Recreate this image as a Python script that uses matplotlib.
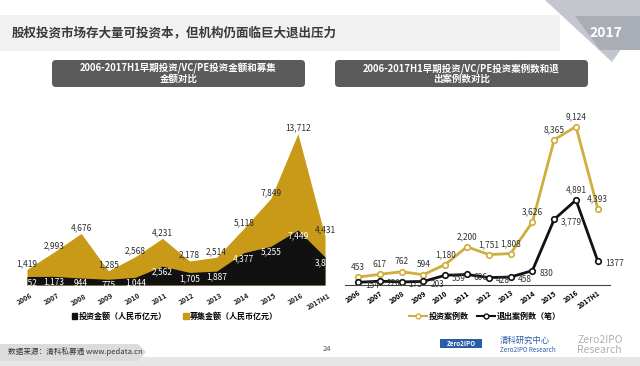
import matplotlib
matplotlib.use('Agg')
import matplotlib.pyplot as plt
from matplotlib.patches import Polygon, Rectangle, FancyBboxPatch, Patch
from matplotlib.lines import Line2D
import numpy as np

plt.rcParams['font.family'] = ['Noto Sans CJK SC', 'DejaVu Sans']

years = ['2006', '2007', '2008', '2009', '2010', '2011', '2012', '2013',
         '2014', '2015', '2016', '2017H1']
invest_amt = [1152, 1173, 944, 775, 1044, 2562, 1705, 1887, 4377, 5255, 7449, 3812]
raise_amt = [1419, 2993, 4676, 1285, 2568, 4231, 2178, 2514, 5118, 7849, 13712, 4431]
invest_cases = [453, 617, 762, 594, 1180, 2200, 1751, 1808, 3626, 8365, 9124, 4393]
exit_cases = [154, 220, 175, 203, 559, 606, 428, 458, 830, 3779, 4891, 1377]

GOLD = '#C99A17'
GOLD_LINE = '#D0AE3C'
W, H = 640, 366


def fx(px):
    return px / W


def fy(py):
    return 1 - py / H


fig = plt.figure(figsize=(6.4, 3.66), dpi=100)
fig.patch.set_facecolor('white')

# page decorations in pixel coordinates
bg = fig.add_axes([0, 0, 1, 1])
bg.set_xlim(0, W)
bg.set_ylim(H, 0)
bg.axis('off')
bg.add_patch(Rectangle((0, 15), 560, 36, color='#f1f1f1', lw=0))
bg.text(12, 33, '股权投资市场存大量可投资本，但机构仍面临巨大退出压力',
        fontsize=9, fontweight='bold', color='#3a3a3a', va='center')
bg.add_patch(Polygon([(545, 0), (640, 0), (640, 22), (612, 62)], color='#c3c6cc', lw=0))
bg.add_patch(Polygon([(575, 16), (640, 16), (640, 50), (600, 50)], color='#a9adb5', lw=0))
bg.text(606, 33, '2017', fontsize=10, fontweight='bold', color='white',
        ha='center', va='center')

for x0, x1, t in [(52, 305, '2006-2017H1早期投资/VC/PE投资金额和募集\n金额对比'),
                  (335, 588, '2006-2017H1早期投资/VC/PE投资案例数和退\n出案例数对比')]:
    bg.add_patch(FancyBboxPatch((x0, 60), x1 - x0, 27, boxstyle='round,pad=0,rounding_size=4',
                                color='#5b5b5b', lw=0))
    bg.text((x0 + x1) / 2, 73.5, t, fontsize=6.8, fontweight='bold', color='white',
            ha='center', va='center', linespacing=1.05)

# footer
bg.add_patch(Rectangle((0, 357), W, 9, color='#e6e6e6', lw=0))
bg.add_patch(Polygon([(0, 344), (138, 344), (146, 352), (138, 361), (0, 361)],
                     color='#dcdcdc', lw=0))
bg.text(8, 352, '数据来源：清科私募通 www.pedata.cn', fontsize=5.5, color='#333333', va='center')
bg.text(327, 349, '24', fontsize=5.5, color='#555555', ha='center', va='center')
bg.add_patch(Rectangle((440, 339), 42, 9, color='#2a5ca8', lw=0))
bg.text(461, 343.5, 'Zero2IPO', fontsize=4.5, color='white', fontweight='bold',
        ha='center', va='center')
bg.text(500, 340, '清科研究中心', fontsize=6, color='#2a5ca8', va='center')
bg.text(500, 350, 'Zero2IPO Research', fontsize=4.5, color='#2a5ca8', va='center')
bg.text(577, 345, 'Zero2IPO\nResearch', fontsize=7.5, color='#b0b0b0', va='center',
        linespacing=0.9)

x = np.arange(len(years))

# left chart: amounts
px_unit = 298 / 11
axL = fig.add_axes([fx(27), fy(285), fx(305), (285 - 125) / H])
axL.set_xlim(0, 305 / px_unit)
axL.set_ylim(0, 14500)
axL.fill_between(x, raise_amt, color=GOLD, lw=0)
axL.axis('off')
axL2 = axL.twinx()
axL2.set_xlim(0, 305 / px_unit)
axL2.set_ylim(0, 21700)
axL2.fill_between(x, invest_amt, color='#111111', lw=0)
axL2.axis('off')
for i, v in enumerate(raise_amt):
    axL.annotate(f'{v:,}', (x[i], v), xytext=(0, 1), textcoords='offset points',
                 ha='center', va='bottom', fontsize=6, color='#2a2a2a')
for i, v in enumerate(invest_amt):
    axL2.annotate(f'{v:,}', (x[i], v), xytext=(0, -1), textcoords='offset points',
                  ha='center', va='top', fontsize=6, color='white')
for i, lab in enumerate(years):
    bg.text(27 + i * px_unit + 3, 292, lab, fontsize=5, fontweight='bold', color='#222222',
            rotation=30, ha='right', va='top', rotation_mode='anchor')
fig.legend(handles=[Patch(color='#111111'), Patch(color=GOLD)],
           labels=['投资金额（人民币亿元）', '募集金额（人民币亿元）'],
           loc='center', bbox_to_anchor=(fx(175), fy(316)), ncol=2, frameon=False,
           fontsize=5.8, handlelength=0.7, handleheight=0.7, handletextpad=0.2,
           columnspacing=2.0, prop={'weight': 'bold', 'size': 5.8})

# right chart: case counts
ru = 21.8
axR = fig.add_axes([fx(345), fy(285), fx(265), (285 - 120) / H])
axR.set_xlim(-13 / ru, 252 / ru)
axR.set_ylim(0, 9500)
axR.set_facecolor('none')
for s in ['top', 'right', 'left']:
    axR.spines[s].set_visible(False)
axR.spines['bottom'].set_color('#444444')
axR.spines['bottom'].set_linewidth(0.8)
axR.set_yticks([])
axR.set_xticks(x)
axR.set_xticklabels(years, rotation=35, ha='right', rotation_mode='anchor',
                    fontsize=5, fontweight='bold')
axR.tick_params(axis='x', length=0, pad=3)
axR.plot(x, invest_cases, color=GOLD_LINE, lw=2, marker='o', ms=4,
         mfc='white', mec=GOLD_LINE, mew=1.2)
axR.plot(x, exit_cases, color='#111111', lw=2, marker='o', ms=4,
         mfc='white', mec='#111111', mew=1.2)
for i, v in enumerate(invest_cases):
    axR.annotate(f'{v:,}', (x[i], v), xytext=(0, 4), textcoords='offset points',
                 ha='center', va='bottom', fontsize=6, color='#333333')
for i, v in enumerate(exit_cases):
    lab = '1377' if years[i] == '2017H1' else f'{v:,}'
    if years[i] == '2016':
        axR.annotate(lab, (x[i], v), xytext=(0, 4), textcoords='offset points',
                     ha='center', va='bottom', fontsize=6, color='#333333')
    else:
        axR.annotate(lab, (x[i], v), xytext=(5, -2), textcoords='offset points',
                     ha='left', va='center', fontsize=6, color='#333333')
axR.legend(handles=[Line2D([], [], color=GOLD_LINE, lw=1.5, marker='o', ms=3.5, mfc='white'),
                    Line2D([], [], color='#111111', lw=1.5, marker='o', ms=3.5, mfc='white')],
           labels=['投资案例数', '退出案例数（笔）'], loc='center',
           bbox_to_anchor=(fx(485), fy(316)), bbox_transform=fig.transFigure,
           ncol=2, frameon=False, handlelength=2.2, handletextpad=0.3, columnspacing=1.0,
           prop={'weight': 'bold', 'size': 5.8})

fig.savefig('out.png', dpi=100)
